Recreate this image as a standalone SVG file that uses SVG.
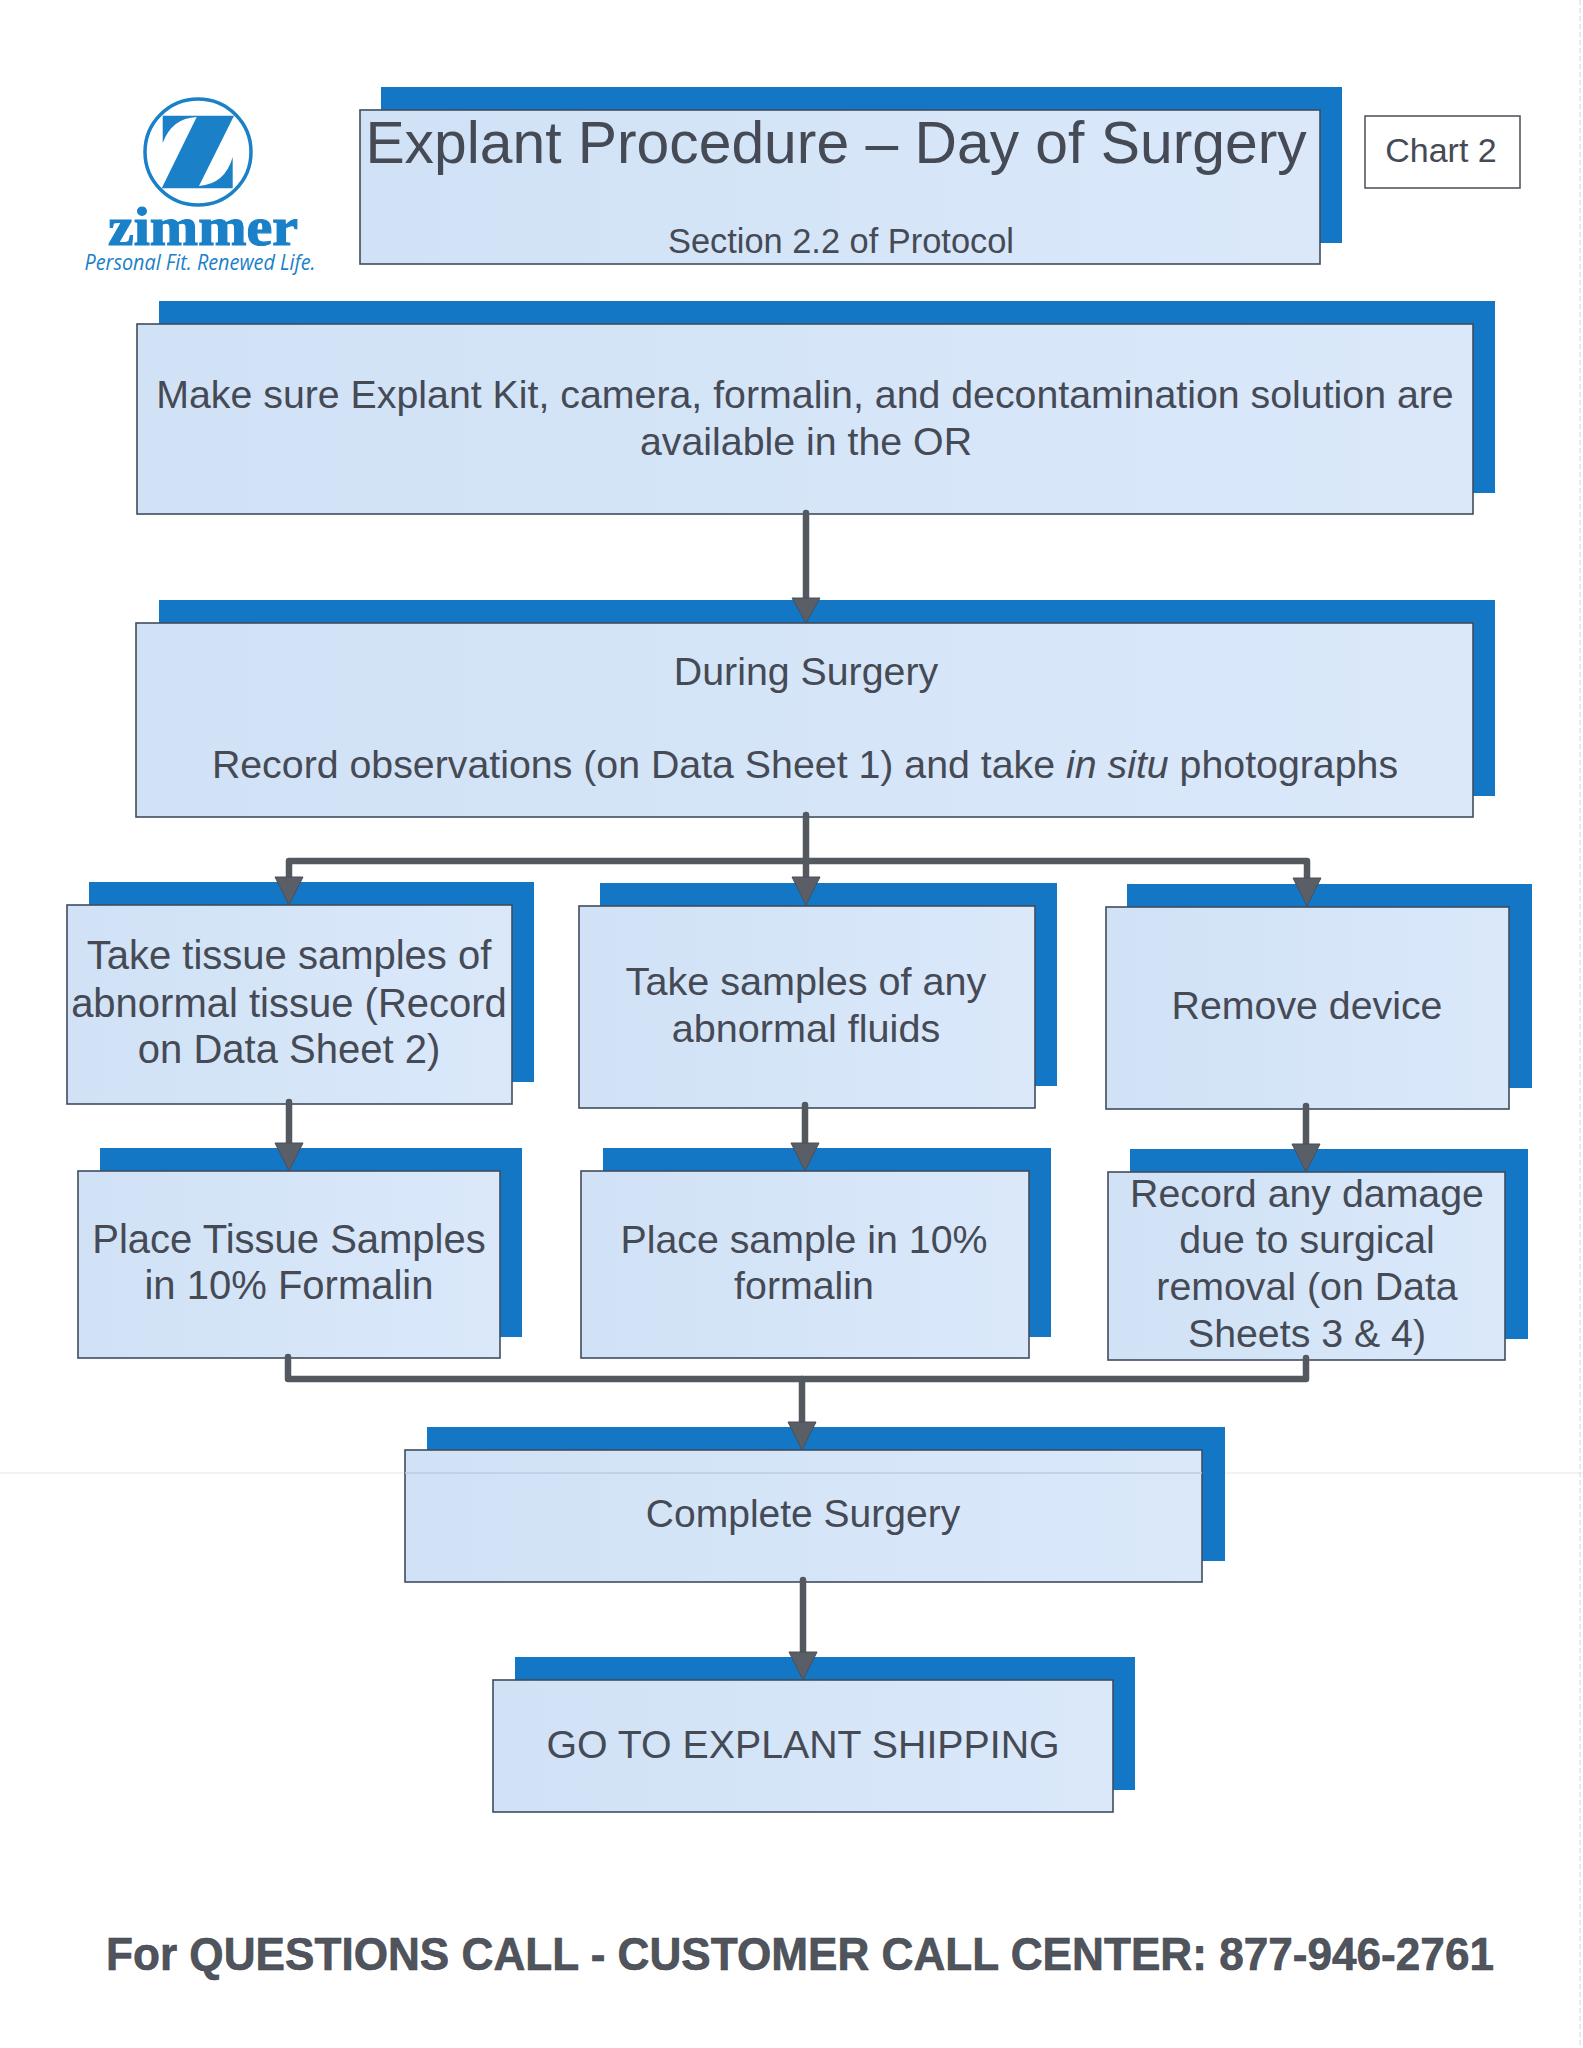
<svg xmlns="http://www.w3.org/2000/svg" width="1583" height="2048" viewBox="0 0 1583 2048">
<style>
.sh{fill:#1477c6}
.bx{fill:url(#bf);stroke:#3f4d5e;stroke-width:1.6}
text{font-family:"Liberation Sans",Arial,sans-serif;fill:#454a55;text-anchor:middle}
.t{font-size:39.3px}
.u{font-size:40px}
.c{fill:none;stroke:#54585f;stroke-width:6.5;stroke-linejoin:round;stroke-linecap:round}
.h{fill:#5a5e66;stroke:#4a4e56;stroke-width:1}
.lg{fill:#1a80c8}
</style>
<defs>
<linearGradient id="bf" x1="0" y1="0" x2="1" y2="0"><stop offset="0" stop-color="#d1e2f6"/><stop offset="1" stop-color="#dae8fa"/></linearGradient>
</defs>
<rect width="1583" height="2048" fill="#fff"/>
<path d="M0 1473H1583" stroke="#eceef2" stroke-width="1.5"/>
<path d="M1580 0V2048" stroke="#e2e2e2" stroke-width="1.5" stroke-dasharray="5 3"/>

<g id="logo">
<circle cx="198" cy="152" r="53" fill="none" stroke="#1a80c8" stroke-width="3.5"/>
<path class="lg" d="M162.7 115.7H234L199 186Q225 184 232.7 157V188.3H161.7L196.7 117Q172 118 162.7 143Z"/>
<text x="203" y="245" textLength="190" lengthAdjust="spacingAndGlyphs" style="font-family:'Liberation Serif',serif;font-weight:bold;font-size:54px;fill:#1a80c8;stroke:#1a80c8;stroke-width:1.2">zimmer</text>
<text x="200" y="270" textLength="231" lengthAdjust="spacingAndGlyphs" style="font-family:'Open Sans',sans-serif;font-style:italic;font-size:22px;fill:#1a80c8">Personal Fit. Renewed Life.</text>
</g>

<g id="title">
<rect class="sh" x="381" y="87" width="961" height="156"/>
<rect class="bx" x="360" y="110" width="960" height="154"/>
<text x="836" y="163" style="font-size:58.8px">Explant Procedure – Day of Surgery</text>
<text x="841" y="253" style="font-size:34.4px">Section 2.2 of Protocol</text>
</g>
<g id="chart">
<rect x="1365" y="116" width="155" height="72" fill="#fff" stroke="#4a4f57" stroke-width="1.5"/>
<text x="1441" y="162" style="font-size:34px">Chart 2</text>
</g>
<g id="kit">
<rect class="sh" x="159" y="301" width="1336" height="192"/>
<rect class="bx" x="137" y="324" width="1336" height="190"/>
<text class="t" x="805" y="408">Make sure Explant Kit, camera, formalin, and decontamination solution are</text>
<text class="t" x="806" y="455">available in the OR</text>
</g>
<g id="during">
<rect class="sh" x="159" y="600" width="1336" height="196"/>
<rect class="bx" x="136" y="623" width="1337" height="194"/>
<text class="t" x="806" y="685">During Surgery</text>
<text class="t" x="805" y="778">Record observations (on Data Sheet 1) and take <tspan font-style="italic">in situ</tspan> photographs</text>
</g>
<g id="tissue">
<rect class="sh" x="89" y="882" width="445" height="200"/>
<rect class="bx" x="67" y="905" width="445" height="199"/>
<text class="u" x="289" y="969">Take tissue samples of</text>
<text class="u" x="289" y="1017">abnormal tissue (Record</text>
<text class="u" x="289" y="1063">on Data Sheet 2)</text>
</g>
<g id="fluids">
<rect class="sh" x="600" y="883" width="457" height="203"/>
<rect class="bx" x="579" y="906" width="456" height="202"/>
<text class="u" x="806" y="995" style="font-size:39.6px">Take samples of any</text>
<text class="u" x="806" y="1042" style="font-size:39.6px">abnormal fluids</text>
</g>
<g id="remove">
<rect class="sh" x="1127" y="884" width="405" height="204"/>
<rect class="bx" x="1106" y="907" width="403" height="202"/>
<text class="t" x="1307" y="1019">Remove device</text>
</g>
<g id="place-tissue">
<rect class="sh" x="100" y="1148" width="422" height="189"/>
<rect class="bx" x="78" y="1171" width="422" height="187"/>
<text class="u" x="289" y="1253">Place Tissue Samples</text>
<text class="u" x="289" y="1299">in 10% Formalin</text>
</g>
<g id="place-sample">
<rect class="sh" x="603" y="1148" width="448" height="189"/>
<rect class="bx" x="581" y="1171" width="448" height="187"/>
<text class="t" x="804" y="1253">Place sample in 10%</text>
<text class="t" x="804" y="1299">formalin</text>
</g>
<g id="damage">
<rect class="sh" x="1130" y="1149" width="398" height="190"/>
<rect class="bx" x="1108" y="1172" width="397" height="188"/>
<text class="t" x="1307" y="1207">Record any damage</text>
<text class="t" x="1307" y="1253">due to surgical</text>
<text class="t" x="1307" y="1300">removal (on Data</text>
<text class="t" x="1307" y="1347">Sheets 3 &amp; 4)</text>
</g>
<g id="complete">
<rect class="sh" x="427" y="1427" width="798" height="134"/>
<rect class="bx" x="405" y="1450" width="797" height="132"/>
<path d="M405 1473H1202" stroke="#bccbe2" stroke-width="1.5"/>
<text class="t" x="803" y="1527" style="font-size:39px">Complete Surgery</text>
</g>
<g id="shipping">
<rect class="sh" x="515" y="1657" width="620" height="133"/>
<rect class="bx" x="493" y="1680" width="620" height="132"/>
<text class="t" x="803" y="1758">GO TO EXPLANT SHIPPING</text>
</g>
<text id="footer" x="800" y="1970" textLength="1388" lengthAdjust="spacingAndGlyphs" style="font-size:46px;font-weight:bold;fill:#50545d;stroke:#3f434b;stroke-width:.6">For QUESTIONS CALL - CUSTOMER CALL CENTER: 877-946-2761</text>

<g id="connectors">
<path class="c" d="M806 513V602"/>
<path class="c" d="M806 815V880M806 861H289V880M806 861H1307V880"/>
<path class="c" d="M289 1102V1148"/>
<path class="c" d="M805 1105V1148"/>
<path class="c" d="M1306 1106V1148"/>
<path class="c" d="M288 1357V1379H1306V1358"/>
<path class="c" d="M802 1379V1426"/>
<path class="c" d="M803 1580V1656"/>
<path class="h" d="M792 598H820L806 623Z"/>
<path class="h" d="M275 877H303L289 905Z"/>
<path class="h" d="M792 877H820L806 905Z"/>
<path class="h" d="M1293 878H1321L1307 906Z"/>
<path class="h" d="M275 1143H303L289 1171Z"/>
<path class="h" d="M791 1143H819L805 1171Z"/>
<path class="h" d="M1292 1144H1320L1306 1172Z"/>
<path class="h" d="M788 1422H816L802 1450Z"/>
<path class="h" d="M789 1652H817L803 1680Z"/>
</g>
</svg>
